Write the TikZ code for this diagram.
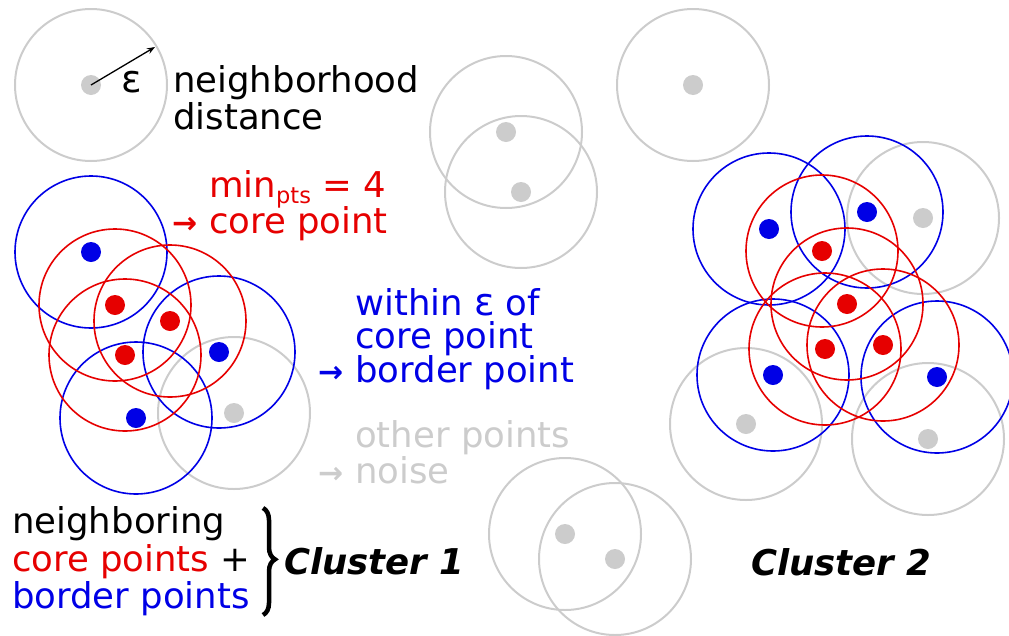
\documentclass[tikz,border=0pt]{standalone}
\usepackage{fontspec}
\setmainfont{DejaVu Sans}
\usetikzlibrary{decorations.pathreplacing,arrows.meta}
\definecolor{cred}{RGB}{230,0,0}
\definecolor{cblue}{RGB}{0,0,230}
\definecolor{cgray}{RGB}{204,204,204}
\newcommand{\myeps}{{\fontsize{38}{38}\selectfont ε}}
\newcommand{\myarr}{{\fontsize{30}{30}\selectfont\bfseries →}}
\begin{document}
\begin{tikzpicture}[x=1pt,y=-1pt,
  lbl/.style={anchor=base west, inner sep=0pt, font=\fontsize{35.5}{37}\selectfont},
  dotg/.style={circle, inner sep=0pt, minimum size=20pt, fill=cgray},
  dotr/.style={circle, inner sep=0pt, minimum size=20pt, fill=cred},
  dotb/.style={circle, inner sep=0pt, minimum size=20pt, fill=cblue},
  ringg/.style={draw=cgray, line width=2pt},
  ringr/.style={draw=cred, line width=1.6pt},
  ringb/.style={draw=cblue, line width=1.6pt}]
\useasboundingbox (0,0) rectangle (1009,635);
% ---- circles ----
\foreach \x/\y in {91/85, 506/132, 521/192, 693/85, 565/534, 615/559, 234/413, 923/218, 746/424, 928/439}
  \draw[ringg] (\x,\y) circle[radius=76pt];
\foreach \x/\y in {91/252, 219/352, 136/418, 769/229, 867/212, 773/375, 937/377}
  \draw[ringb] (\x,\y) circle[radius=76pt];
\foreach \x/\y in {115/305, 170/321, 125/355, 822/251, 847/304, 825/349, 883/345}
  \draw[ringr] (\x,\y) circle[radius=76pt];
% ---- dots ----
\node[dotg] (g0) at (91,85) {};
\node[dotg] (g1) at (506,132) {};
\node[dotg] (g2) at (521,192) {};
\node[dotg] (g3) at (693,85) {};
\node[dotg] (g4) at (565,534) {};
\node[dotg] (g5) at (615,559) {};
\node[dotg] (g6) at (234,413) {};
\node[dotg] (g7) at (923,218) {};
\node[dotg] (g8) at (746,424) {};
\node[dotg] (g9) at (928,439) {};
\node[dotb] (b1) at (91,252) {};
\node[dotb] (b2) at (219,352) {};
\node[dotb] (b3) at (136,418) {};
\node[dotb] (b4) at (769,229) {};
\node[dotb] (b5) at (867,212) {};
\node[dotb] (b6) at (773,375) {};
\node[dotb] (b7) at (937,377) {};
\node[dotr] (r1) at (115,305) {};
\node[dotr] (r2) at (170,321) {};
\node[dotr] (r3) at (125,355) {};
\node[dotr] (r4) at (822,251) {};
\node[dotr] (r5) at (847,304) {};
\node[dotr] (r6) at (825,349) {};
\node[dotr] (r7) at (883,345) {};
% ---- epsilon arrow ----
\coordinate (eend) at (155,47);
\draw[line width=1.3pt, -{Stealth[length=8pt,width=6pt]}] (g0.center) -- (eend);
\node[lbl] (epslbl) at (121,92) {\myeps};
% ---- texts ----
\node[lbl] (nd1) at (173,92) {neighborhood};
\node[lbl] (nd2) at (173,129) {distance};
\node[lbl, text=cred] (mp1) at (209,197) {min\raisebox{-6pt}{\fontsize{22.5}{22.5}\selectfont pts} = 4};
\node[lbl, text=cred] (mp2a) at (172,233) {\myarr};
\node[lbl, text=cred] (mp2) at (209,233) {core point};
\node[lbl, text=cblue] (bp1) at (355,315) {within \myeps\ of};
\node[lbl, text=cblue] (bp2) at (355,348) {core point};
\node[lbl, text=cblue] (bp3a) at (318,382) {\myarr};
\node[lbl, text=cblue] (bp3) at (355,382) {border point};
\node[lbl, text=cgray] (np1) at (355,447) {other points};
\node[lbl, text=cgray] (np2a) at (318,483) {\myarr};
\node[lbl, text=cgray] (np2) at (355,483) {noise};
\node[lbl] (c1a) at (12,533) {neighboring};
\node[lbl] (c1b) at (12,571) {\textcolor{cred}{core points} +};
\node[lbl, text=cblue] (c1c) at (12,608) {border points};
\coordinate (brt) at (263,508);
\coordinate (brb) at (263,615);
\draw[line width=4.5pt, decorate, decoration={brace, amplitude=12pt, aspect=0.48}] (brt) -- (brb);
\node[lbl, font=\fontsize{35.5}{37}\selectfont\bfseries\itshape] (cl1) at (284,574) {Cluster 1};
\node[lbl, font=\fontsize{35.5}{37}\selectfont\bfseries\itshape] (cl2) at (751,575) {Cluster 2};
\end{tikzpicture}
\end{document}
